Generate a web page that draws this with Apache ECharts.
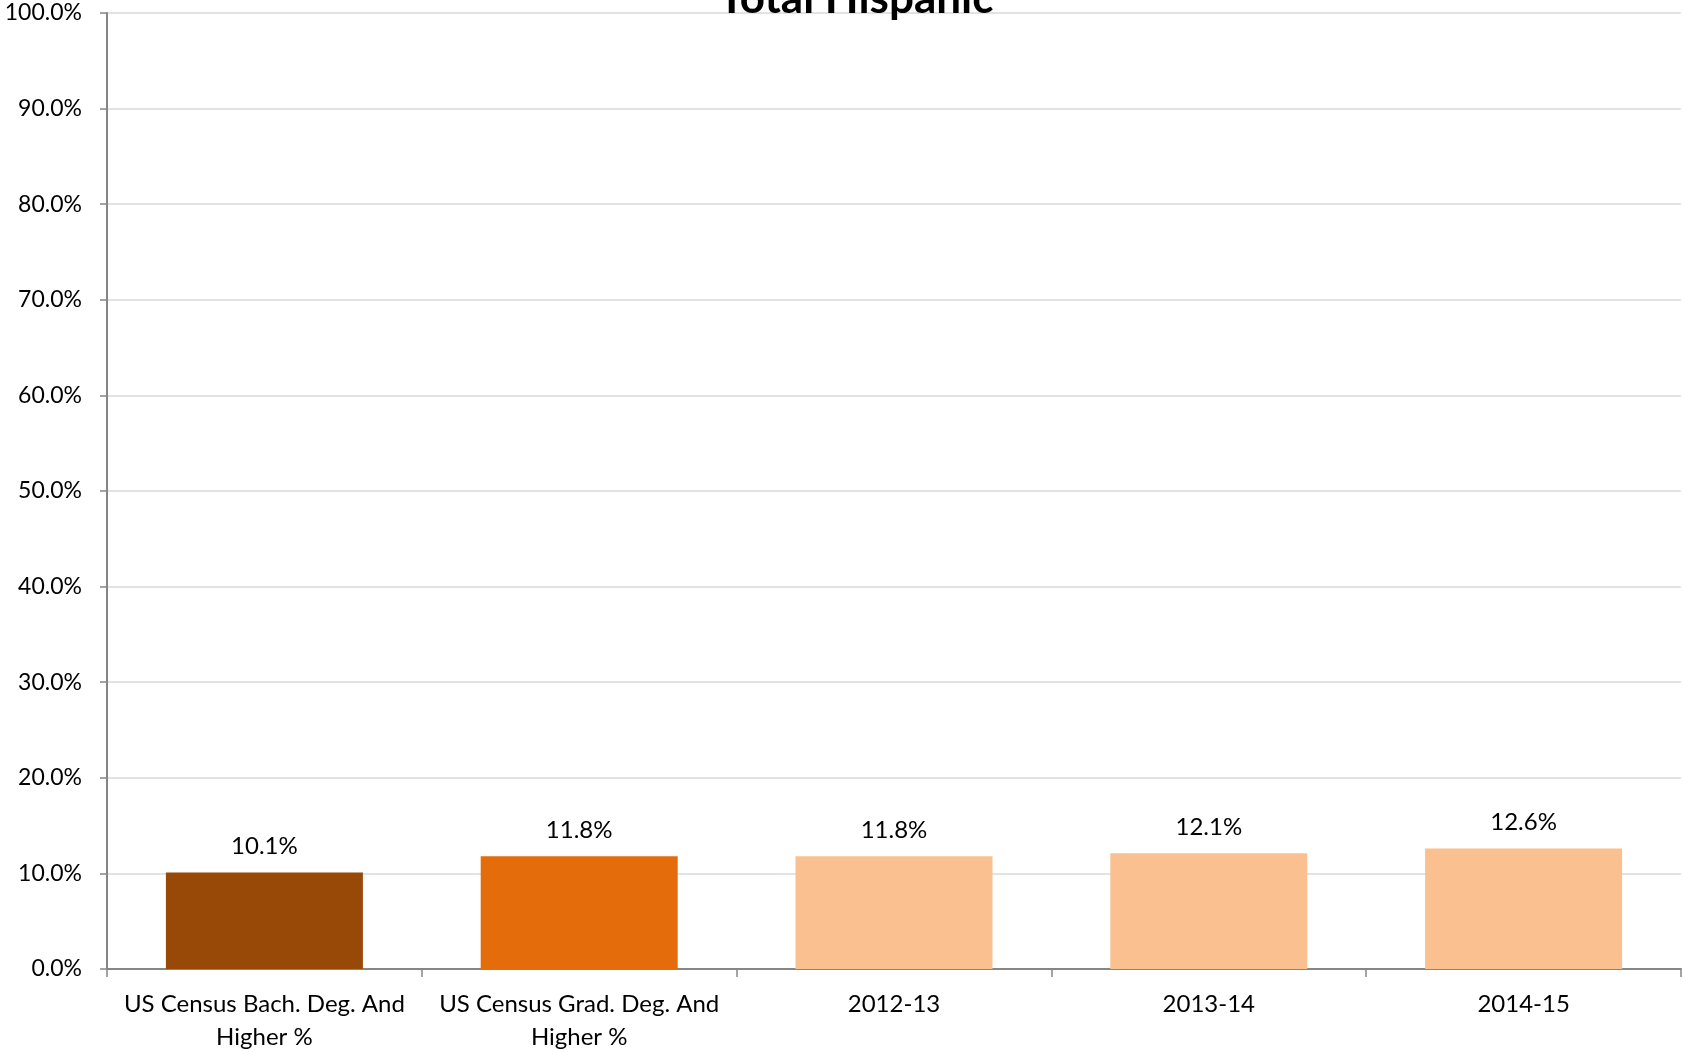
<!DOCTYPE html>
<html>
<head>
<meta charset="utf-8">
<script src="https://cdn.jsdelivr.net/npm/echarts@6/dist/echarts.min.js"></script>
<style>
html,body{margin:0;padding:0;background:#fff;}
#chart{width:1683px;height:1052px;}
</style>
</head>
<body>
<div id="chart"></div>
<script>
const titleText = 'Total Hispanic';
const categories = ['US Census Bach. Deg. And\nHigher %', 'US Census Grad. Deg. And\nHigher %', '2012-13', '2013-14', '2014-15'];
const values = [10.1, 11.8, 11.8, 12.1, 12.6];
const yTicks = [0, 10, 20, 30, 40, 50, 60, 70, 80, 90, 100];
const barColors = ['#984807', '#E46C0A', '#FAC090', '#FAC090', '#FAC090'];

const FONT = 'Lato';
const chart = echarts.init(document.getElementById('chart'));
chart.setOption({
  animation: false,
  backgroundColor: '#fff',
  title: {
    text: titleText,
    left: 851,
    textAlign: 'center',
    top: -28,
    textStyle: {fontFamily: FONT, fontWeight: 'bold', fontSize: 44, color: '#000'}
  },
  grid: {left: 107, right: 2, top: 13, bottom: 83, containLabel: false, outerBoundsMode: 'none'},
  xAxis: {
    type: 'category',
    data: categories,
    axisLine: {lineStyle: {color: '#868686', width: 2}},
    axisTick: {show: true, length: 8, lineStyle: {color: '#868686', width: 1.5}},
    axisLabel: {fontFamily: FONT, fontSize: 24, color: '#000', margin: 19, lineHeight: 33, interval: 0}
  },
  yAxis: {
    type: 'value',
    min: yTicks[0],
    max: yTicks[yTicks.length - 1],
    interval: 10,
    axisLine: {show: true, lineStyle: {color: '#868686', width: 2}},
    axisTick: {show: true, length: 7, lineStyle: {color: '#868686', width: 1.5}},
    splitLine: {lineStyle: {color: '#D9D9D9', width: 1.5}},
    axisLabel: {fontFamily: FONT, fontSize: 23, color: '#000', margin: 25,
      formatter: v => v.toFixed(1) + '%'}
  },
  series: [{
    type: 'bar',
    barWidth: 197,
    data: values.map((v, i) => ({value: v, itemStyle: {color: barColors[i]}})),
    label: {show: true, position: 'top', distance: 14, fontFamily: FONT, fontSize: 24, color: '#000',
      formatter: p => p.value.toFixed(1) + '%'}
  }]
});
</script>
</body>
</html>
